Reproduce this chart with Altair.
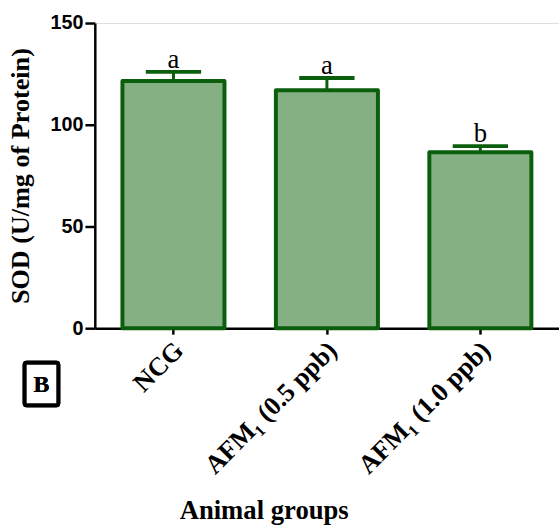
import altair as alt
import pandas as pd

groups = ["NCG", "AFM\u2081 (0.5 ppb)", "AFM\u2081 (1.0 ppb)"]
sod_mean = [121.5, 117.0, 86.5]
sod_sem = [4.5, 6.0, 3.0]
letters = ["a", "a", "b"]

df = pd.DataFrame({
    "group": groups,
    "mean": sod_mean,
    "top": [m + s for m, s in zip(sod_mean, sod_sem)],
    "letter": letters,
})

GREEN = "#0b5e0b"
FILL = "#84b084"

x_enc = alt.X(
    "group:N",
    sort=groups,
    scale=alt.Scale(paddingInner=0.335, paddingOuter=0.18),
    axis=alt.Axis(
        title="Animal groups",
        titleFont="Liberation Serif",
        titleFontSize=27,
        titleFontWeight="bold",
        titleColor="black",
        titleX=171,
        titleY=193,
        titleBaseline="alphabetic",
        titleAnchor="start",
        titleAlign="center",
        labelAngle=-45,
        labelAlign="right",
        labelBaseline="middle",
        labelFont="Liberation Serif",
        labelFontSize=26.5,
        labelFontWeight="bold",
        labelColor="black",
        labelPadding=12,
        labelOffset=6,
        domainColor="black",
        domainWidth=2.5,
        tickColor="black",
        tickWidth=2.5,
        tickSize=6,
    ),
)

y_scale = alt.Scale(domain=[0, 150], nice=False)

bars = alt.Chart(df).mark_bar(
    fill=FILL, stroke=GREEN, strokeWidth=4, strokeJoin="round"
).encode(
    x=x_enc,
    y=alt.Y(
        "mean:Q",
        scale=y_scale,
        axis=alt.Axis(
            title="SOD (U/mg of Protein)",
            titleFont="Liberation Serif",
            titleFontSize=26.5,
            titleFontWeight="bold",
            titleColor="black",
            titlePadding=16,
            values=[0, 50, 100, 150],
            labelFont="Liberation Sans",
            labelFontSize=20,
            labelFontWeight="bold",
            labelColor="black",
            labelPadding=2,
            domainColor="black",
            domainWidth=2.5,
            tickColor="black",
            tickWidth=2.5,
            tickSize=10,
            grid=False,
        ),
    ),
)

stems = alt.Chart(df).mark_rule(color=GREEN, strokeWidth=3).encode(
    x=alt.X("group:N", sort=groups),
    y="mean:Q",
    y2="top:Q",
)

caps = alt.Chart(df).mark_tick(
    color=GREEN, thickness=4, size=56, orient="horizontal", opacity=1
).encode(
    x=alt.X("group:N", sort=groups),
    y="top:Q",
)

labels = alt.Chart(df).mark_text(
    font="Liberation Serif", fontSize=27, color="black", baseline="alphabetic", dy=-4
).encode(
    x=alt.X("group:N", sort=groups),
    y="top:Q",
    text="letter:N",
)

box = alt.Chart(df).mark_rect(
    fill="white", stroke="black", strokeWidth=4, cornerRadius=2
).encode(
    x=alt.value(-71), x2=alt.value(-37), y=alt.value(344), y2=alt.value(387)
)

btext = alt.Chart(df).mark_text(
    text="B", font="Liberation Serif", fontSize=24, fontWeight="bold",
    color="black", baseline="middle", align="center"
).encode(x=alt.value(-54), y=alt.value(367))

chart = alt.layer(bars, stems, caps, labels, box, btext).properties(
    width=470,
    height=309,
    padding={"left": 96, "top": 20, "right": 0, "bottom": 202},
    autosize=alt.AutoSizeParams(type="none"),
).configure_view(stroke=None).configure(background="white")

chart.save("out.html", embed_options={"renderer": "svg", "actions": False})
